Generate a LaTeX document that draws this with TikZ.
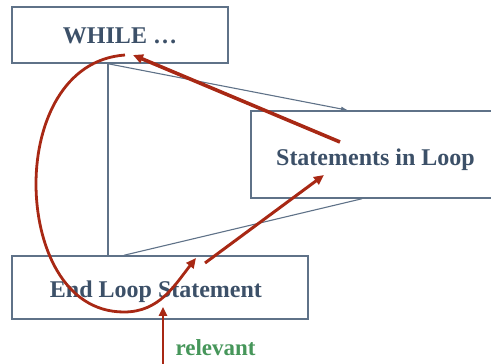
\documentclass[tikz,border=0pt]{standalone}
\usepackage{fontspec}
\setmainfont{Liberation Serif}
\usetikzlibrary{arrows.meta}

\definecolor{slate}{HTML}{3C5068}
\definecolor{frame}{HTML}{5F7288}
\definecolor{rust}{HTML}{A82814}
\definecolor{leaf}{HTML}{46965A}

\tikzset{
  stmt/.style={draw=frame, line width=1.5pt, rectangle, inner sep=0pt,
    text depth=0pt, text=slate, font=\fontsize{24}{27}\selectfont\bfseries},
  flow/.style={draw=frame, line width=1.1pt},
  loopback/.style={draw=rust, line width=3.6pt, -{Triangle[length=10pt,width=9pt]}}
}

\begin{document}
\begin{tikzpicture}[x=1pt, y=-1pt]
    \useasboundingbox (0,0) rectangle (491,364);

    % Blocs
    \node[stmt, minimum width=216pt, minimum height=56pt] (while) at (120,35) {\raisebox{-2pt}{WHILE …}};
    \node[stmt, minimum width=249pt, minimum height=87pt] (body) at (375.5,154.5) {\raisebox{-5pt}{Statements in Loop}};
    \node[stmt, minimum width=296pt, minimum height=63pt] (endloop) at (160,287.5) {\hspace*{-8pt}\raisebox{-4pt}{End Loop Statement}};

    % Flot de controle
    \coordinate (fork) at ([xshift=-12pt]while.south);
    \draw[flow] (fork) -- (fork |- endloop.north);
    \draw[flow, -{Latex[length=7pt,width=5pt]}] (fork) -- ([xshift=-27.5pt]body.north);
    \draw[flow] ([xshift=-36pt]endloop.north) -- ([xshift=-13.5pt]body.south);

    % Annotations
    \coordinate (back) at (340,142);
    \coordinate (cond) at (133,55);
    \coordinate (exit) at (205,263);
    \coordinate (again) at (324,175);
    \coordinate (top) at (125,55);
    \coordinate (ret) at (196,258);
    \coordinate (feed) at (163,364);
    \draw[loopback] (back) -- (cond);
    \draw[loopback, line width=3pt] (exit) -- (again);
    \draw[loopback, line width=2.8pt] (top) to[out=184,in=90] (36,184)
        to[out=-90,in=180] (124,312) to[out=0,in=232] (ret);
    \draw[loopback, line width=2.4pt, -{Triangle[length=9pt,width=8pt]}] (feed) -- ([yshift=13pt]feed |- endloop.south);

    \node[text=leaf, font=\fontsize{23}{26}\selectfont\bfseries, anchor=west] (tag) at (172,348) {relevant};
\end{tikzpicture}
\end{document}
